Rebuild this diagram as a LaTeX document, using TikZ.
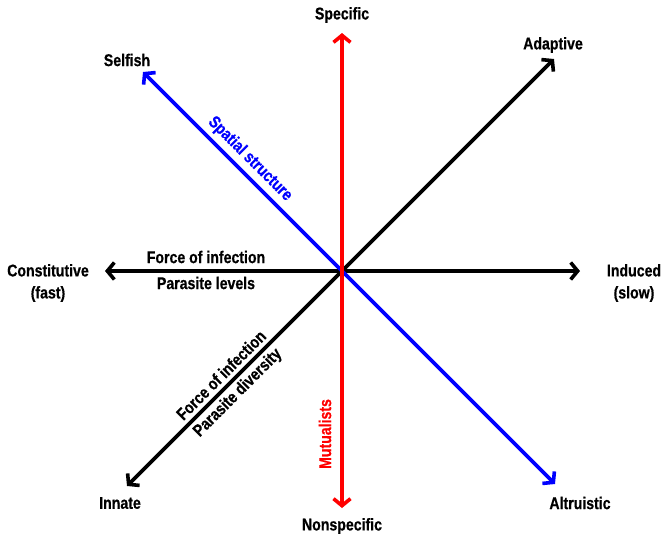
\documentclass[tikz,border=0pt]{standalone}
\usepackage{fontspec}
\setmainfont{Liberation Sans}[FakeStretch=0.83, BoldFeatures={FakeBold=0.6}]
\usetikzlibrary{arrows.meta}
\begin{document}
\begin{tikzpicture}[x=1pt,y=-1pt,
  lbl/.style={font=\fontsize{17}{22}\selectfont\bfseries, inner sep=0pt, align=center},
  axis/.style={line width=3.6pt, {Straight Barb[length=7pt,width=17pt]}-{Straight Barb[length=7pt,width=17pt]}},
]
\definecolor{axred}{RGB}{255,0,0}
\definecolor{axblue}{RGB}{0,0,255}
\useasboundingbox (0,0) rectangle (662,539);
\fill[white] (0,0) rectangle (662,539);
% arrow ends
\coordinate (o) at (342,271);
\coordinate (rt) at (342,33);
\coordinate (rb) at (342,508);
\coordinate (hl) at (105,271);
\coordinate (hr) at (580,271);
\coordinate (dl) at (127,486);
\coordinate (dr) at (554,59);
\coordinate (bl) at (143,72);
\coordinate (br) at (555,484);
% axes
\draw[axis] (hl) -- (hr);
\draw[axis] (dl) -- (dr);
\draw[axis, axblue] (bl) -- (br);
\draw[axis, axred] (rt) -- (rb);
% end labels
\node[lbl] (spec) at (342,15) {Specific};
\node[lbl] (nonspec) at (342,526) {Nonspecific};
\node[lbl] (selfish) at (127,60) {Selfish};
\node[lbl] (adapt) at (553,45) {Adaptive};
\node[lbl] (const) at (48,283) {Constitutive\\(fast)};
\node[lbl] (induced) at (634,283) {Induced\\(slow)};
\node[lbl] (innate) at (120,503) {Innate};
\node[lbl] (altru) at (580,503) {Altruistic};
% axis labels
\node[lbl, axblue, rotate=-45] (spatial) at (250,159) {Spatial structure};
\node[lbl] (foih) at (206,257) {Force of infection};
\node[lbl] (pl) at (206,283) {Parasite levels};
\node[lbl, rotate=45] (foid) at (221,375) {Force of infection};
\node[lbl, rotate=45] (pd) at (238,393) {Parasite diversity};
\node[lbl, axred, rotate=90] (mut) at (325,434) {Mutualists};
\end{tikzpicture}
\end{document}
